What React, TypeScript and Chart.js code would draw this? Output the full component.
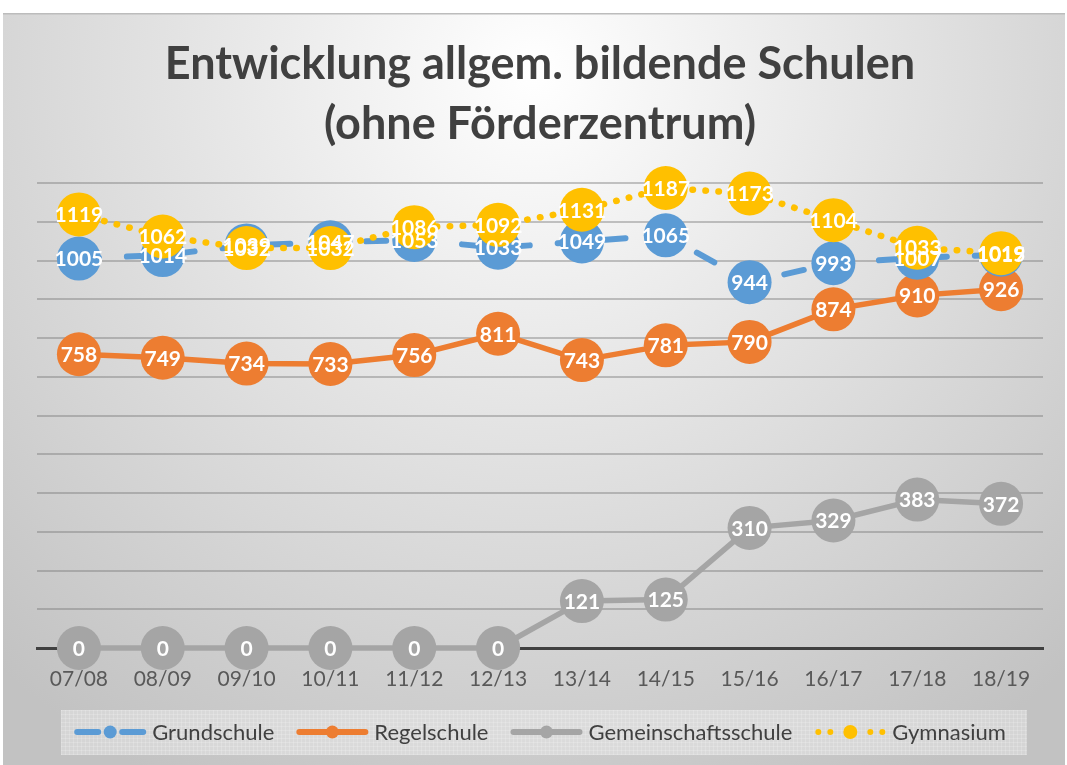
import React, { useEffect, useRef } from "react";
import { Chart, registerables } from "chart.js";

Chart.register(...registerables);

// ---------- data ----------
const TITLE_LINES = ["Entwicklung allgem. bildende Schulen", "(ohne Förderzentrum)"];
const CATEGORIES = ["07/08", "08/09", "09/10", "10/11", "11/12", "12/13", "13/14", "14/15", "15/16", "16/17", "17/18", "18/19"];
const SERIES_NAMES = ["Grundschule", "Regelschule", "Gemeinschaftsschule", "Gymnasium"];
const GRUNDSCHULE = [1005, 1014, 1039, 1047, 1053, 1033, 1049, 1065, 944, 993, 1007, 1015];
const REGELSCHULE = [758, 749, 734, 733, 756, 811, 743, 781, 790, 874, 910, 926];
const GEMEINSCHAFTSSCHULE = [0, 0, 0, 0, 0, 0, 121, 125, 310, 329, 383, 372];
const GYMNASIUM = [1119, 1062, 1032, 1032, 1086, 1092, 1131, 1187, 1173, 1104, 1033, 1019];
const Y_MIN = 0;
const Y_MAX = 1200;
const Y_STEP = 100;

// ---------- styles ----------
const W = 1062;
const H = 752;
const FONT = "Lato, 'Open Sans', sans-serif";
const STYLES = [
  { color: "#5B9BD5", width: 6, dash: [20, 28], order: 1 },
  { color: "#ED7D31", width: 5.5, dash: [] as number[], order: 2 },
  { color: "#A5A5A5", width: 5.5, dash: [] as number[], order: 3 },
  { color: "#FFC000", width: 6.5, dash: [0.5, 12.5], order: 0 },
];
const SERIES_DATA = [GRUNDSCHULE, REGELSCHULE, GEMEINSCHAFTSSCHULE, GYMNASIUM];

function drawLegendSymbol(ctx: CanvasRenderingContext2D, i: number, x: number, y: number) {
  const s = STYLES[i];
  ctx.save();
  ctx.strokeStyle = s.color;
  ctx.fillStyle = s.color;
  ctx.lineCap = "round";
  ctx.lineWidth = 6;
  if (i === 0) {
    ctx.beginPath();
    ctx.moveTo(x + 3, y);
    ctx.lineTo(x + 24, y);
    ctx.moveTo(x + 48, y);
    ctx.lineTo(x + 69, y);
    ctx.stroke();
  } else if (i === 3) {
    [4, 16, 56, 68].forEach((dx) => {
      ctx.beginPath();
      ctx.arc(x + dx, y, 3, 0, Math.PI * 2);
      ctx.fill();
    });
  } else {
    ctx.beginPath();
    ctx.moveTo(x + 3, y);
    ctx.lineTo(x + 69, y);
    ctx.stroke();
  }
  ctx.beginPath();
  ctx.arc(x + 36, y, i === 3 ? 7 : 6.5, 0, Math.PI * 2);
  ctx.fill();
  ctx.restore();
}

const decorPlugin = {
  id: "decor",
  beforeDraw(chart: any) {
    const { ctx, width, height } = chart;
    ctx.save();
    const g = ctx.createRadialGradient(width * 0.5, 60, 0, width * 0.5, 60, 800);
    g.addColorStop(0, "#ffffff");
    g.addColorStop(0.45, "#e3e3e3");
    g.addColorStop(1, "#c2c2c2");
    ctx.fillStyle = g;
    ctx.fillRect(0, 0, width, height);
    ctx.fillStyle = "#bcbcbc";
    ctx.fillRect(0, 0, width, 1.5);
    // legend box
    ctx.fillStyle = "rgba(238,238,238,0.45)";
    ctx.fillRect(58, 697, 966, 45);
    ctx.strokeStyle = "rgba(255,255,255,0.18)";
    ctx.lineWidth = 1;
    ctx.beginPath();
    for (let x = 58; x < 1024; x += 4) {
      ctx.moveTo(x + 0.5, 697);
      ctx.lineTo(x + 0.5, 742);
    }
    for (let y = 697; y < 742; y += 4) {
      ctx.moveTo(58, y + 0.5);
      ctx.lineTo(1024, y + 0.5);
    }
    ctx.stroke();
    ctx.restore();
  },
  afterDatasetsDraw(chart: any) {
    const { ctx } = chart;
    ctx.save();
    ctx.font = `bold 21px ${FONT}`;
    ctx.fillStyle = "#ffffff";
    ctx.textAlign = "center";
    ctx.textBaseline = "middle";
    chart.data.datasets.forEach((ds: any, di: number) => {
      const meta = chart.getDatasetMeta(di);
      meta.data.forEach((pt: any, idx: number) => {
        ctx.fillText(String(ds.data[idx]), pt.x, pt.y + 1);
      });
    });
    ctx.restore();
  },
  afterDraw(chart: any) {
    const { ctx, chartArea } = chart;
    const cx = (chartArea.left + chartArea.right) / 2;
    ctx.save();
    // title
    ctx.font = `bold 45px ${FONT}`;
    ctx.fillStyle = "#404040";
    ctx.textAlign = "center";
    ctx.textBaseline = "alphabetic";
    ctx.fillText(TITLE_LINES[0], cx, 66);
    ctx.fillText(TITLE_LINES[1], cx, 126);
    // legend
    ctx.font = `22px ${FONT}`;
    const symW = 72;
    const symGap = 6;
    const itemGap = 22;
    const widths = SERIES_NAMES.map((n) => ctx.measureText(n).width);
    const total = widths.reduce((a, w) => a + symW + symGap + w, 0) + itemGap * (SERIES_NAMES.length - 1);
    let x = cx - total / 2;
    const y = 719;
    SERIES_NAMES.forEach((name, i) => {
      drawLegendSymbol(ctx, i, x, y);
      ctx.fillStyle = "#404040";
      ctx.textAlign = "left";
      ctx.textBaseline = "middle";
      ctx.fillText(name, x + symW + symGap, y + 1);
      x += symW + symGap + widths[i] + itemGap;
    });
    ctx.restore();
  },
};

export default function App() {
  const ref = useRef<HTMLCanvasElement | null>(null);
  useEffect(() => {
    if (!ref.current) return;
    const chart = new Chart(ref.current, {
      type: "line",
      data: {
        labels: CATEGORIES,
        datasets: SERIES_NAMES.map((name, i) => ({
          label: name,
          data: SERIES_DATA[i],
          borderColor: STYLES[i].color,
          backgroundColor: STYLES[i].color,
          borderWidth: STYLES[i].width,
          borderDash: STYLES[i].dash,
          borderCapStyle: "round",
          borderJoinStyle: "round",
          pointRadius: 22,
          pointBackgroundColor: STYLES[i].color,
          pointBorderColor: STYLES[i].color,
          pointBorderWidth: 0,
          tension: 0,
          fill: false,
          clip: false,
          order: STYLES[i].order,
        })),
      },
      options: {
        responsive: false,
        animation: false,
        events: [],
        layout: { padding: { top: 170, left: 34, right: 13, bottom: 67 } },
        plugins: {
          legend: { display: false },
          title: { display: false },
          tooltip: { enabled: false },
        },
        scales: {
          x: {
            offset: true,
            grid: { display: false, drawTicks: false },
            border: { display: true, color: "#404040", width: 3 },
            ticks: {
              color: "#595959",
              font: { family: FONT, size: 21 },
              padding: 19,
              autoSkip: false,
              maxRotation: 0,
            },
            afterFit: (scale: any) => {
              scale.height = 50;
            },
          },
          y: {
            min: Y_MIN,
            max: Y_MAX,
            ticks: { display: false, stepSize: Y_STEP },
            grid: { color: "rgba(120,120,120,0.42)", lineWidth: 2, drawTicks: false },
            border: { display: false },
            afterFit: (scale: any) => {
              scale.width = 0;
            },
          },
        },
      },
      plugins: [decorPlugin],
    } as any);
    return () => chart.destroy();
  }, []);
  return (
    <div style={{ position: "absolute", left: 3, top: 13, width: W, height: H }}>
      <canvas ref={ref} width={W} height={H} style={{ display: "block" }} />
    </div>
  );
}
